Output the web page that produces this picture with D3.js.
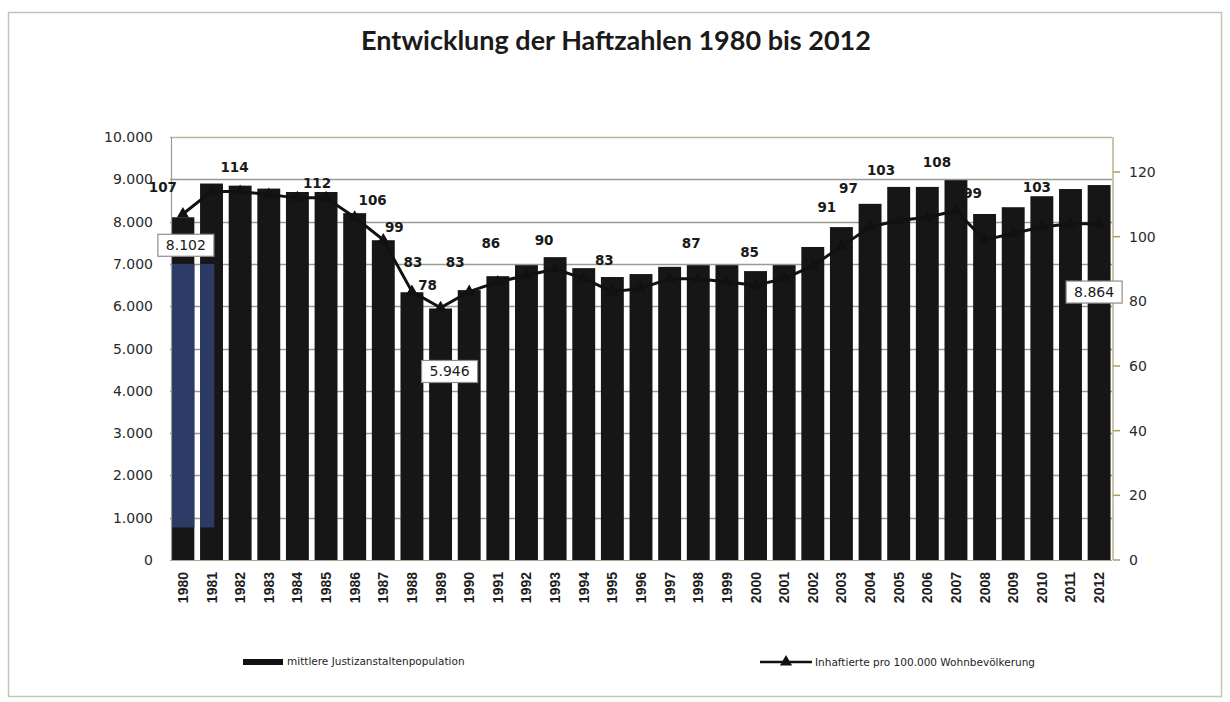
<!DOCTYPE html>
<html lang="de">
<head>
<meta charset="utf-8">
<script src="https://cdn.jsdelivr.net/npm/d3@7"></script>
<title>Haftzahlen</title>
<style>
  body { margin: 0; background: #fff; }
</style>
</head>
<body>
<script>
var w = 1230;
var h = 702;

// data
var years = ["1980","1981","1982","1983","1984","1985","1986","1987","1988","1989","1990",
             "1991","1992","1993","1994","1995","1996","1997","1998","1999","2000","2001",
             "2002","2003","2004","2005","2006","2007","2008","2009","2010","2011","2012"];

var population = [8102, 8900, 8850, 8780, 8700, 8700, 8200, 7560, 6330, 5946, 6380,
                  6710, 6970, 7160, 6900, 6690, 6760, 6930, 6970, 6970, 6830, 6970,
                  7400, 7870, 8420, 8820, 8820, 8980, 8180, 8340, 8600, 8770, 8864];

var rate = [107, 114, 114, 113, 112, 112, 106, 99, 83, 78, 83,
            86, 88, 90, 87, 83, 84, 87, 87, 86, 85, 87,
            91, 97, 103, 105, 106, 108, 99, 101, 103, 104, 104];

var leftTicks = [0, 1000, 2000, 3000, 4000, 5000, 6000, 7000, 8000, 9000, 10000];
var rightTicks = [0, 20, 40, 60, 80, 100, 120];

// which points carry a visible label
var rateLabelYears = ["1980","1981","1985","1986","1987","1988","1989","1990","1991","1993",
                      "1995","1998","2000","2002","2003","2004","2007","2008","2010"];
var popLabelYears = ["1980", "1989", "2012"];
var highlightYears = ["1980", "1981"];

var titleText = "Entwicklung der Haftzahlen 1980 bis 2012";
var legendBar = "mittlere Justizanstaltenpopulation";
var legendLine = "Inhaftierte pro 100.000 Wohnbevölkerung";

// label nudges (layout, not data)
var rateNudge = {
    "1980": [-20, -22], "1981": [23, -19], "1985": [-9, -10], "1986": [18, -12],
    "1987": [11, -8], "1988": [1, -25], "1989": [-13, -18], "1990": [-14, -25],
    "1991": [-7, -34], "1993": [-11, -24], "1995": [-8, -27], "1998": [-7, -31],
    "2000": [-6, -28], "2002": [14, -54], "2003": [7, -53], "2004": [11, -52],
    "2007": [-19, -44], "2008": [-12, -42], "2010": [-5, -35]
};
var popNudge = { "1980": [3, 28], "1989": [9, 63], "2012": [-5, 107] };

var plot = { left: 170, right: 1112, top: 137, bottom: 560 };

var fmt = function(d) { return d3.format(",")(d).replace(/,/g, "."); };

var xScale = d3.scaleBand()
    .domain(years)
    .range([plot.left, plot.right])
    .paddingInner(0.2)
    .paddingOuter(0.05);

var yLeft = d3.scaleLinear()
    .domain([0, 10000])
    .range([plot.bottom, plot.top]);

var yRight = d3.scaleLinear()
    .domain([0, 120])
    .range([plot.bottom, 172]);

var svg = d3.select("body")
    .append("svg")
    .attr("width", w)
    .attr("height", h);

svg.append("rect")
    .attr("x", 0).attr("y", 0)
    .attr("width", w).attr("height", h)
    .attr("fill", "#fff");

// outer frame of the scanned chart
svg.append("rect")
    .attr("x", 8.5).attr("y", 12.5)
    .attr("width", 1213).attr("height", 684)
    .attr("fill", "none")
    .attr("stroke", "#c4c4bc")
    .attr("stroke-width", 1.5);

svg.append("text")
    .attr("x", 616)
    .attr("y", 50)
    .attr("text-anchor", "middle")
    .attr("font-family", "Lato, 'Open Sans', sans-serif")
    .attr("font-weight", 700)
    .attr("font-size", "27px")
    .attr("fill", "#1a1a1a")
    .text(titleText);

// gridlines
svg.append("g")
    .selectAll("line")
    .data(leftTicks.filter(function(d) { return d > 0; }))
    .enter()
    .append("line")
    .attr("x1", plot.left)
    .attr("x2", plot.right)
    .attr("y1", function(d) { return Math.round(yLeft(d)) + 0.5; })
    .attr("y2", function(d) { return Math.round(yLeft(d)) + 0.5; })
    .attr("stroke", function(d) { return d === 10000 ? "#b9b596" : "#9a9a90"; })
    .attr("stroke-width", 1.3);

// bars
svg.append("g")
    .selectAll("rect")
    .data(population)
    .enter()
    .append("rect")
    .attr("x", function(d, i) { return xScale(years[i]); })
    .attr("y", function(d) { return yLeft(d); })
    .attr("width", xScale.bandwidth())
    .attr("height", function(d) { return plot.bottom - yLeft(d); })
    .attr("fill", "#161616");

// bluish scan highlight on the first two bars
svg.append("g")
    .selectAll("rect")
    .data(highlightYears)
    .enter()
    .append("rect")
    .attr("x", function(d) { return xScale(d); })
    .attr("y", yLeft(7000))
    .attr("width", function(d, i) { return i === 0 ? xScale.bandwidth() : xScale.bandwidth() * 0.62; })
    .attr("height", yLeft(770) - yLeft(7000))
    .attr("fill", "#2c3a66");

// axes lines
svg.append("line")
    .attr("x1", plot.left + 1.5).attr("x2", plot.left + 1.5)
    .attr("y1", plot.top).attr("y2", plot.bottom)
    .attr("stroke", "#9c9c94").attr("stroke-width", 1.2);

svg.append("line")
    .attr("x1", plot.left).attr("x2", plot.right)
    .attr("y1", plot.bottom + 0.5).attr("y2", plot.bottom + 0.5)
    .attr("stroke", "#a8a894").attr("stroke-width", 1.2);

svg.append("line")
    .attr("x1", plot.right + 1).attr("x2", plot.right + 1)
    .attr("y1", plot.top).attr("y2", plot.bottom)
    .attr("stroke", "#bdb58a").attr("stroke-width", 1.5);

// left axis labels
svg.append("g")
    .selectAll("text")
    .data(leftTicks)
    .enter()
    .append("text")
    .attr("x", 153)
    .attr("y", function(d) { return yLeft(d) + 5; })
    .attr("text-anchor", "end")
    .attr("font-family", "'DejaVu Sans', Verdana, sans-serif")
    .attr("font-size", "14px")
    .attr("fill", "#2a2a2a")
    .text(function(d) { return fmt(d); });

// right axis ticks and labels
svg.append("g")
    .selectAll("line")
    .data(rightTicks)
    .enter()
    .append("line")
    .attr("x1", plot.right + 1)
    .attr("x2", plot.right + 8)
    .attr("y1", function(d) { return yRight(d); })
    .attr("y2", function(d) { return yRight(d); })
    .attr("stroke", "#a79f6a")
    .attr("stroke-width", 1.5);

svg.append("g")
    .selectAll("text")
    .data(rightTicks)
    .enter()
    .append("text")
    .attr("x", 1129)
    .attr("y", function(d) { return yRight(d) + 5; })
    .attr("font-family", "'DejaVu Sans', Verdana, sans-serif")
    .attr("font-size", "14px")
    .attr("fill", "#2a2a2a")
    .text(function(d) { return d; });

// year labels, rotated
svg.append("g")
    .selectAll("text")
    .data(years)
    .enter()
    .append("text")
    .attr("transform", function(d) {
        return "translate(" + (xScale(d) + xScale.bandwidth() / 2 + 5) + ",572) rotate(-90)";
    })
    .attr("text-anchor", "end")
    .attr("font-family", "'Liberation Sans Narrow', 'Liberation Sans', sans-serif")
    .attr("font-size", "14px")
    .attr("font-weight", 700)
    .attr("fill", "#1e1e1e")
    .text(function(d) { return d; });

// rate line
var line = d3.line()
    .x(function(d, i) { return xScale(years[i]) + xScale.bandwidth() / 2; })
    .y(function(d) { return yRight(d); });

svg.append("path")
    .datum(rate)
    .attr("d", line)
    .attr("fill", "none")
    .attr("stroke", "#111")
    .attr("stroke-width", 3)
    .attr("stroke-linejoin", "round");

var tri = d3.symbol().type(d3.symbolTriangle).size(64);

svg.append("g")
    .selectAll("path")
    .data(rate)
    .enter()
    .append("path")
    .attr("d", tri)
    .attr("transform", function(d, i) {
        return "translate(" + (xScale(years[i]) + xScale.bandwidth() / 2) + "," + yRight(d) + ")";
    })
    .attr("fill", "#111");

// rate labels
svg.append("g")
    .selectAll("text")
    .data(rateLabelYears)
    .enter()
    .append("text")
    .attr("x", function(d) {
        return xScale(d) + xScale.bandwidth() / 2 + rateNudge[d][0];
    })
    .attr("y", function(d) {
        return yRight(rate[years.indexOf(d)]) + rateNudge[d][1];
    })
    .attr("text-anchor", "middle")
    .attr("font-family", "'DejaVu Sans', Verdana, sans-serif")
    .attr("font-weight", 700)
    .attr("font-size", "13.5px")
    .attr("fill", "#1a1a1a")
    .text(function(d) { return rate[years.indexOf(d)]; });

// population labels in boxes
var popLabels = svg.append("g")
    .selectAll("g")
    .data(popLabelYears)
    .enter()
    .append("g")
    .attr("transform", function(d) {
        var cx = xScale(d) + xScale.bandwidth() / 2 + popNudge[d][0];
        var cy = yLeft(population[years.indexOf(d)]) + popNudge[d][1];
        return "translate(" + cx + "," + cy + ")";
    });

popLabels.append("rect")
    .attr("x", -28).attr("y", -11)
    .attr("width", 56).attr("height", 22)
    .attr("fill", "#fff")
    .attr("stroke", "#8e8e8e")
    .attr("stroke-width", 1.2);

popLabels.append("text")
    .attr("y", 5)
    .attr("text-anchor", "middle")
    .attr("font-family", "'DejaVu Sans', Verdana, sans-serif")
    .attr("font-size", "14px")
    .attr("fill", "#1a1a1a")
    .text(function(d) { return fmt(population[years.indexOf(d)]); });

// legend
var legend = svg.append("g")
    .attr("font-family", "'DejaVu Sans', Verdana, sans-serif")
    .attr("font-size", "10.5px")
    .attr("fill", "#1e1e1e");

legend.append("rect")
    .attr("x", 243).attr("y", 659)
    .attr("width", 40).attr("height", 6)
    .attr("fill", "#111");

legend.append("text")
    .attr("x", 287).attr("y", 665)
    .text(legendBar);

legend.append("line")
    .attr("x1", 760).attr("x2", 812)
    .attr("y1", 662).attr("y2", 662)
    .attr("stroke", "#111").attr("stroke-width", 2.5);

legend.append("path")
    .attr("d", tri)
    .attr("transform", "translate(786,662)")
    .attr("fill", "#111");

legend.append("text")
    .attr("x", 815).attr("y", 666)
    .text(legendLine);
</script>
</body>
</html>
